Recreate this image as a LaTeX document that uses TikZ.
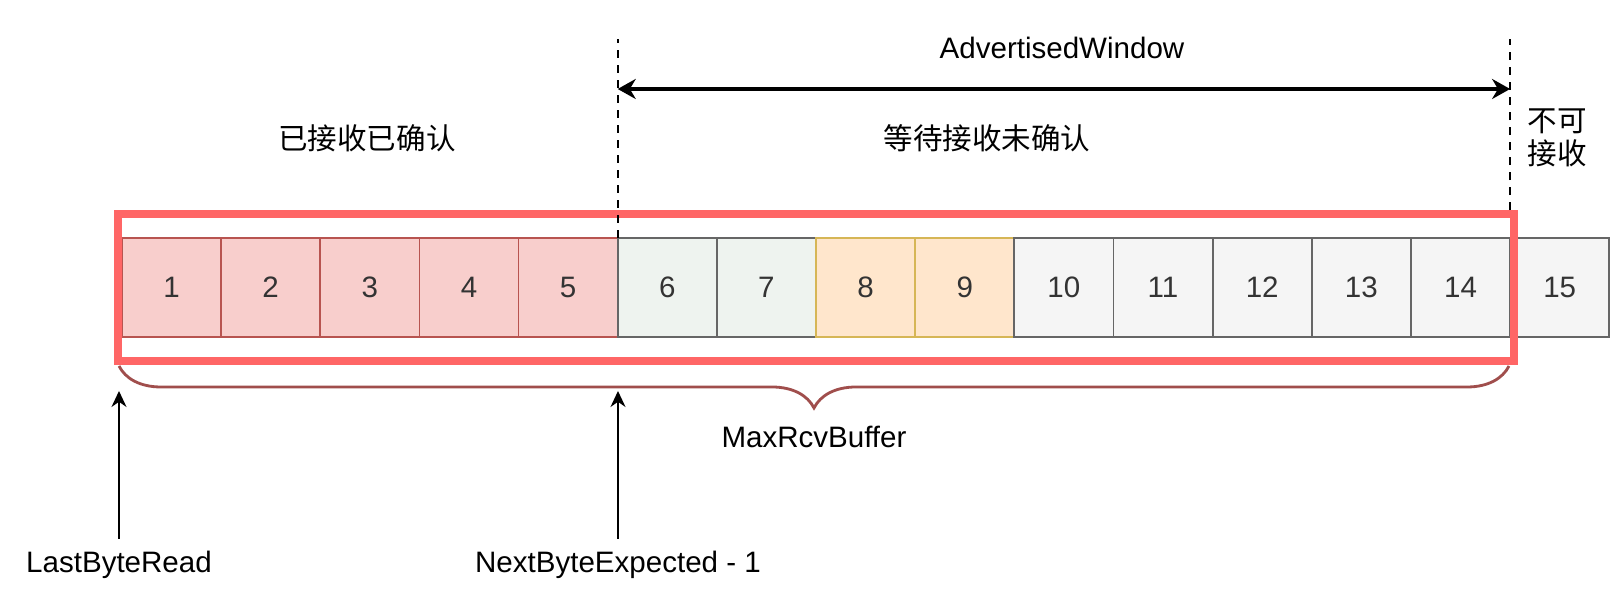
\documentclass[tikz,border=0pt]{standalone}
\usepackage{fontspec}
\setmainfont{Liberation Sans}
\newfontfamily\cjk{Noto Sans CJK SC}
\usepackage{xcolor}
\usetikzlibrary{arrows.meta, positioning, fit, decorations.pathreplacing}
\definecolor{ackfill}{HTML}{F8CECC}
\definecolor{ackline}{HTML}{B85450}
\definecolor{waitfill}{HTML}{EEF3EF}
\definecolor{ordfill}{HTML}{FFE6CC}
\definecolor{ordline}{HTML}{D6B656}
\definecolor{idlefill}{HTML}{F5F5F5}
\definecolor{idleline}{HTML}{666666}
\definecolor{winred}{HTML}{FF6666}
\definecolor{braceline}{HTML}{A04E4C}

\begin{document}
\begin{tikzpicture}[x=0.01cm, y=0.01cm, font=\fontsize{8.4}{9.4}\selectfont,
        node distance=0pt,
        cell/.style={draw=idleline, fill=idlefill, text=black!80,
                     line width=0.5pt, minimum width=0.991cm,
                     minimum height=0.99cm, inner sep=0pt, outer sep=0pt},
        acked/.style={cell, draw=ackline, fill=ackfill},
        waiting/.style={cell, fill=waitfill},
        outoforder/.style={cell, draw=ordline, fill=ordfill},
        winframe/.style={draw=winred, line width=2.2pt,
                         inner xsep=0.04cm, inner ysep=0.24cm},
        guide/.style={line width=0.45pt, dash pattern=on 0.08cm off 0.07cm},
        span/.style={<->, line width=1.1pt,
                     >={Stealth[length=0.18cm, width=0.2cm]}},
        pointer/.style={->, line width=0.5pt,
                        >={Stealth[length=0.16cm, width=0.15cm]}},
        cn/.style={font=\fontsize{8.4}{9.4}\selectfont\cjk, align=center}]
      \fill[white] (0,0) rectangle (1620,592);

      % receive buffer
      \node[acked] (c1) at (171.5,304.5) {1};
      \node[acked, right=of c1] (c2) {2};
      \node[acked, right=of c2] (c3) {3};
      \node[acked, right=of c3] (c4) {4};
      \node[acked, right=of c4] (c5) {5};
      \node[waiting, right=of c5] (c6) {6};
      \node[waiting, right=of c6] (c7) {7};
      \node[outoforder, right=of c7] (c8) {8};
      \node[outoforder, right=of c8] (c9) {9};
      \node[cell, right=of c9] (c10) {10};
      \node[cell, right=of c10] (c11) {11};
      \node[cell, right=of c11] (c12) {12};
      \node[cell, right=of c12] (c13) {13};
      \node[cell, right=of c13] (c14) {14};
      \node[cell, right=of c14] (c15) {15};

      \node[winframe, fit=(c1)(c14)] (buf) {};

      % advertised window
      \coordinate (top) at (0,553);
      \coordinate (aw) at (0,503);
      \draw[guide] (c6.north west) -- (c6.north west |- top);
      \draw[guide] (c15.north west |- buf.north) -- (c15.north west |- top);
      \draw[span] (c6.north west |- aw) -- (c15.north west |- aw);
      \node (awtext) at (1062,544) {AdvertisedWindow};

      \node[cn] (rcvd) at (367,454) {已接收已确认};
      \node[cn] (pending) at (987,454) {等待接收未确认};
      \node[cn] (refused) at (1557,454) {不可\\接收};

      % MaxRcvBuffer
      \coordinate (bl) at (119,226);
      \coordinate (br) at (1509,226);
      \draw[braceline, line width=0.8pt, decorate,
            decoration={brace, amplitude=0.42cm}] (br) -- (bl);
      \node (maxbuf) at (814,155) {MaxRcvBuffer};

      % pointers
      \node (lbr) at (119,27) {LastByteRead};
      \node (nbe) at (618,27) {NextByteExpected - 1};
      \coordinate (lbrtip) at (119,201);
      \coordinate (nbetip) at (618,201);
      \draw[pointer] (lbr) -- (lbrtip);
      \draw[pointer] (nbe) -- (nbetip);
    \end{tikzpicture}
\end{document}
